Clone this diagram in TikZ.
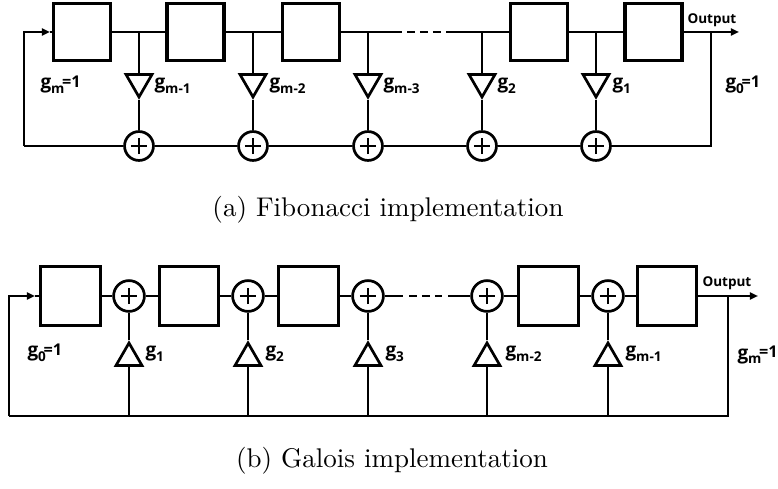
\documentclass[tikz,border=0pt]{standalone}
\usepackage{fontspec}
\newfontfamily\labfont{Open Sans}
\usetikzlibrary{shapes.geometric,arrows.meta}
\newcommand\gsb[1]{\raisebox{-1.6pt}{\fontsize{5}{5}\selectfont #1}}
\newcommand\eqone{\kern-0.9pt\raisebox{0.7pt}{\fontsize{6}{6}\selectfont =1}}
\tikzset{
  reg/.style={draw, line width=1.2pt, minimum width=21.1pt, minimum height=21.1pt, inner sep=0pt},
  regb/.style={reg, minimum width=22pt, minimum height=22pt},
  add/.style={draw, circle, line width=1pt, minimum size=10.7pt, inner sep=0pt,
    path picture={
      \draw[line width=1pt] ([xshift=-3pt]path picture bounding box.center) -- ([xshift=3pt]path picture bounding box.center);
      \draw[line width=1pt] ([yshift=-3pt]path picture bounding box.center) -- ([yshift=3pt]path picture bounding box.center);}},
  addb/.style={add, minimum size=11.4pt},
  amp/.style={draw, regular polygon, regular polygon sides=3, minimum size=11.1pt, inner sep=0pt, line width=1pt},
  ampd/.style={amp, shape border rotate=180},
  wire/.style={line width=1pt},
  arrw/.style={wire, -{Triangle[length=3pt,width=2.6pt]}},
  dsh/.style={wire, dash pattern=on 2.8pt off 2pt},
  lab/.style={font=\labfont\bfseries\fontsize{7}{8}\selectfont, inner sep=0pt, anchor=base west},
  outlab/.style={font=\labfont\bfseries\fontsize{5}{6}\selectfont, inner sep=0pt, anchor=base west},
  captext/.style={font=\normalsize, inner sep=0pt, anchor=base}
}
\begin{document}
\begin{tikzpicture}[x=0.37pt, y=-0.37pt]
\useasboundingbox (0,0) rectangle (778,489);

% ---------------- (a) Fibonacci ----------------
\node[reg] (a1) at (82,32) {};
\node[reg] (a2) at (195.5,32) {};
\node[reg] (a3) at (311,32) {};
\node[reg] (a4) at (539,32) {};
\node[reg] (a5) at (653.5,32) {};

\coordinate (tl) at (24,32);
\coordinate (bl) at (24,146);
\coordinate (tr) at (711,32);
\coordinate (br) at (711,146);
\coordinate (ain) at (50,32);
\coordinate (aout) at (739,32);
\coordinate (d1) at (402,32);
\coordinate (d2) at (407,32);
\coordinate (d3) at (441,32);
\coordinate (d4) at (446,32);

\foreach \i/\x in {1/139,2/253,3/368,4/482,5/596}{
  \coordinate (p\i) at (\x,32);
  \node[ampd] (m\i) at (\x,82) {};
  \node[add] (s\i) at (\x,146) {};
}

\draw[arrw] (bl) -- (tl) -- (ain);
\draw[wire] (ain) -- (a1);
\draw[wire] (a1) -- (a2);
\draw[wire] (a2) -- (a3);
\draw[wire] (a3) -- (d1);
\draw[dsh] (d2) -- (d3);
\draw[wire] (d4) -- (a4);
\draw[wire] (a4) -- (a5);
\draw[arrw] (a5) -- (aout);
\foreach \i in {1,...,5}{
  \draw[wire] (p\i) -- (m\i.side 2);
  \draw[wire] (m\i.corner 1) -- (s\i);
}
\draw[wire] (bl) -- (s1);
\draw[wire] (s1) -- (s2);
\draw[wire] (s2) -- (s3);
\draw[wire] (s3) -- (s4);
\draw[wire] (s4) -- (s5);
\draw[wire] (s5) -- (br) -- (tr);

\node[outlab] (oa) at (687,24) {Output};
\node[lab] (la0) at (40,89) {g\gsb{m}\eqone};
\node[lab] (la1) at (154,89) {g\gsb{m-1}};
\node[lab] (la2) at (269,89) {g\gsb{m-2}};
\node[lab] (la3) at (383,89) {g\gsb{m-3}};
\node[lab] (la4) at (497,89) {g\gsb{2}};
\node[lab] (la5) at (612,89) {g\gsb{1}};
\node[lab] (la6) at (725,89) {g\gsb{0}\eqone};

\node[captext] (capa) at (388,217) {(a) Fibonacci implementation};

% ---------------- (b) Galois ----------------
\node[regb] (b1) at (70.5,296) {};
\node[regb] (b2) at (189,296) {};
\node[regb] (b3) at (308.5,296) {};
\node[regb] (b4) at (548.5,296) {};
\node[regb] (b5) at (667,296) {};

\coordinate (ul) at (9,296);
\coordinate (ll) at (9,416);
\coordinate (ur) at (728,296);
\coordinate (lr) at (728,416);
\coordinate (bin) at (35,296);
\coordinate (bout) at (758,296);
\coordinate (e1) at (403,296);
\coordinate (e2) at (409,296);
\coordinate (e3) at (442,296);
\coordinate (e4) at (448,296);

\foreach \i/\x in {1/129,2/248,3/368,4/487,5/608}{
  \node[addb] (t\i) at (\x,296) {};
  \node[amp] (n\i) at (\x,358) {};
  \coordinate (q\i) at (\x,416);
}

\draw[arrw] (ll) -- (ul) -- (bin);
\draw[wire] (bin) -- (b1);
\draw[wire] (b1) -- (t1);
\draw[wire] (t1) -- (b2);
\draw[wire] (b2) -- (t2);
\draw[wire] (t2) -- (b3);
\draw[wire] (b3) -- (t3);
\draw[wire] (t3) -- (e1);
\draw[dsh] (e2) -- (e3);
\draw[wire] (e4) -- (t4);
\draw[wire] (t4) -- (b4);
\draw[wire] (b4) -- (t5);
\draw[wire] (t5) -- (b5);
\draw[arrw] (b5) -- (bout);
\draw[wire] (ur) -- (lr) -- (ll);
\foreach \i in {1,...,5}{
  \draw[wire] (q\i) -- (n\i.side 2);
  \draw[wire] (n\i.corner 1) -- (t\i);
}

\node[outlab] (ob) at (702,287) {Output};
\node[lab] (lb0) at (27,357) {g\gsb{0}\eqone};
\node[lab] (lb1) at (145,357) {g\gsb{1}};
\node[lab] (lb2) at (265,357) {g\gsb{2}};
\node[lab] (lb3) at (385,357) {g\gsb{3}};
\node[lab] (lb4) at (505,357) {g\gsb{m-2}};
\node[lab] (lb5) at (625,357) {g\gsb{m-1}};
\node[lab] (lb6) at (737,359) {g\gsb{m}\eqone};

\node[captext] (capb) at (392,467) {(b) Galois implementation};
\end{tikzpicture}
\end{document}
